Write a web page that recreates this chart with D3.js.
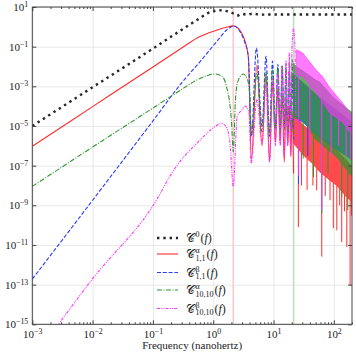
<!DOCTYPE html>
<html>
<head>
<meta charset="utf-8">
<script src="https://cdn.jsdelivr.net/npm/d3@7"></script>
<style>
  html, body { margin: 0; padding: 0; background: #fff; }
</style>
</head>
<body>
<div id="chart"></div>
<script>
// frequencies in nanohertz, values C(f)
var xTicks = [1e-3, 1e-2, 1e-1, 1e0, 1e1, 1e2],
    yTicks = [1e1, 1e-1, 1e-3, 1e-5, 1e-7, 1e-9, 1e-11, 1e-13, 1e-15],
    markerFreqs = [2.15, 21.5];

var blackPts = [
    [0.001, 1e-5], [0.01, 9e-4], [0.1, 0.08], [0.4, 1.25], [0.65, 3.2], [0.8, 4.8],
    [1.05, 6.3], [1.35, 6.8], [1.75, 6.0], [2.15, 4.7], [2.5, 3.7], [3.0, 4.5],
    [3.6, 4.1], [4.5, 4.6], [6, 4.1], [10, 4.2], [200, 4.2]
];

var redPts = [
    [0.001, 9.5e-7], [0.01, 9.5e-5], [0.1, 9.5e-3], [0.3, 0.085], [0.6, 0.33], [0.85, 0.5],
    [1.14, 0.68], [1.6, 0.92], [2.15, 1.12], [2.6, 0.83], [3.16, 0.32], [3.82, 0.031], [4.3, 2e-7],
    [5.3, 1.2e-2], [6.45, 1e-6], [7.5, 4.2e-3], [8.6, 1.5e-7], [9.6, 1.6e-3], [10.75, 1.5e-6],
    [11.8, 9e-4], [12.9, 1.3e-6], [13.9, 4.6e-4], [15.05, 1.5e-7], [16.1, 2.2e-4], [17.2, 1e-6],
    [18.3, 1.1e-4], [19.35, 3e-7], [20.4, 6e-5], [21.5, 4e-8]
];
var redBand = [
    [21.5, 5e-5, 1.3e-6], [31, 1.1e-5, 3.4e-7], [45, 5e-6, 1.2e-7], [59, 2.7e-6, 4.7e-8],
    [86.5, 1.2e-6, 1.8e-8], [112, 6e-7, 1e-8], [164, 1.8e-7, 2.5e-9], [200, 8.3e-8, 1.5e-9]
];
var redSpikes = [
    [25.8, 8e-11], [29, 1e-8], [36, 6e-9], [45, 1e-8], [52, 5.7e-9], [63, 2.6e-12], [72, 3e-9],
    [86.5, 1.8e-9], [98, 7e-11], [112, 5.5e-11], [125, 1e-9], [135, 1.4e-11], [150, 5e-10],
    [164, 8e-12], [186, 9e-14], [195, 3e-10]
];

var bluePts = [
    [0.001, 1.9e-13], [0.01, 1.8e-9], [0.1, 1.8e-5], [0.3, 1.5e-3], [0.6, 1.7e-2], [1.14, 0.18],
    [1.67, 0.69], [2.2, 1.1], [2.78, 0.56], [3.37, 0.15], [3.82, 0.031], [4.3, 3e-6],
    [5.2, 0.085], [6.45, 1e-5], [7.5, 0.033], [8.6, 3e-6], [9.6, 0.0186], [10.75, 1e-5],
    [11.8, 0.013], [12.9, 5e-6], [13.9, 0.0105], [15.05, 1e-5], [16.1, 0.0083], [17.2, 4e-6],
    [18.3, 0.0066], [19.35, 8e-6], [20.4, 4.2e-3], [21.5, 2e-6]
];
var blueBand = [
    [21.5, 4e-3, 3e-5], [31, 1.5e-3, 1.5e-5], [50, 4e-4, 4e-6], [100, 8e-5, 8e-7], [200, 1.5e-5, 2e-7]
];
var blueSpikes = [[26, 1.2e-8], [37, 3e-7]];

var greenPts = [
    [0.001, 9e-9], [0.01, 8.7e-7], [0.1, 8e-5], [0.3, 7e-4], [0.52, 2e-3], [0.8, 3.5e-3],
    [1.05, 4.2e-3], [1.4, 3.2e-3], [1.63, 1.2e-3], [2.0, 2e-5], [2.15, 5e-7],
    [2.35, 3e-4], [2.6, 2e-3], [3.15, 4.2e-3], [3.7, 2.2e-3], [4.05, 3e-4], [4.3, 4e-6],
    [5.3, 4.5e-3], [6.45, 5e-6], [7.5, 5.4e-3], [8.6, 4e-6], [9.6, 6.6e-3], [10.75, 6e-6],
    [11.8, 7.9e-3], [12.9, 4e-6], [13.9, 1.17e-2], [15.05, 6e-6], [16.1, 1.4e-2], [17.2, 5e-6],
    [18.3, 1.7e-2], [19.35, 6e-6], [20.4, 2.3e-2], [21.5, 2e-6]
];
var greenBand = [
    [21.5, 1.5e-2, 2.5e-5], [23.5, 1e-2, 2.5e-5], [31, 5.9e-3, 2e-5], [50.7, 2e-3, 2e-6],
    [59, 1.6e-3, 1.35e-6], [96, 3e-4, 4e-7], [112, 2e-4, 2.7e-7], [179, 6.3e-5, 4.2e-8], [200, 5e-5, 3e-8]
];
var greenSpikes = [[31, 2.3e-7], [46, 2.7e-8], [63, 4e-10], [80, 4e-8], [135, 2.6e-9], [170, 5.6e-10]];

var magentaPts = [
    [0.0025, 7e-16], [0.01, 2e-13], [0.1, 9.5e-10], [0.24, 8.5e-8], [0.6, 1.9e-6], [1.0, 8e-6],
    [1.38, 1.35e-5], [1.7, 7.4e-6], [1.9, 1.3e-6], [2.15, 9e-9], [2.5, 3e-5], [2.97, 6.3e-5],
    [3.37, 1e-4], [3.9, 5e-5], [4.25, 1.3e-7], [5.3, 2.2e-4], [6.45, 1.3e-6], [7.5, 1.2e-3],
    [8.6, 1.5e-7], [9.6, 2.5e-3], [10.75, 1e-6], [11.8, 4.5e-3], [12.9, 1e-6], [13.9, 1e-2],
    [15.05, 3e-7], [16.1, 2e-2], [17.2, 1e-6], [18.3, 5e-2], [19.35, 3e-7], [20.2, 0.08],
    [20.8, 0.4], [21.4, 0.85], [22.0, 0.4], [22.7, 0.08], [23.6, 1e-6]
];
var magentaBand = [
    [24, 0.07, 4e-3], [30.5, 0.048, 3e-3], [50.7, 6.6e-3, 4.6e-4], [65.5, 3e-3, 1.6e-4],
    [83.3, 9.4e-4, 5e-5], [140.6, 1.4e-4, 1.5e-5], [200, 3.1e-5, 3.5e-6]
];
var magentaSpikes = [[26, 3e-8], [40, 1e-6], [63, 6e-10], [90, 3e-7], [120, 1e-6], [160, 3e-7], [190, 2e-7]];

var legendItems = [
    { sup: '0', sub: '' },
    { sup: 'α', sub: '1,1' },
    { sup: 'β', sub: '1,1' },
    { sup: 'α', sub: '10,10' },
    { sup: 'β', sub: '10,10' }
];

window.addEventListener('load', function(){
    var W = 356, H = 356,
        left = 32.3, right = 352, top = 7, bottom = 324.3,
        serif = '"Liberation Serif", "Times New Roman", Times, serif';

    var svg = d3.select('#chart').append('svg')
        .attr('width', W).attr('height', H);

    var x = d3.scaleLog().domain([1e-3, 200]).range([left, right]),
        y = d3.scaleLog().domain([1e-15, 10]).range([bottom, top]);

    var minorX = [];
    xTicks.forEach(function(t){
        for (var k = 2; k <= 9; k++) if (t * k <= 200) minorX.push(t * k);
    });

    // grid
    svg.append('g').attr('transform', 'translate(0,' + bottom + ')')
        .call(d3.axisBottom(x).tickValues(xTicks).tickSize(-(bottom - top)).tickFormat(''))
        .call(function(g){ g.select('.domain').remove(); g.selectAll('line').attr('stroke', '#e8e8e8'); });
    svg.append('g').attr('transform', 'translate(' + left + ',0)')
        .call(d3.axisLeft(y).tickValues(yTicks).tickSize(-(right - left)).tickFormat(''))
        .call(function(g){ g.select('.domain').remove(); g.selectAll('line').attr('stroke', '#e8e8e8'); });

    svg.append('defs').append('clipPath').attr('id', 'clip')
        .append('rect').attr('x', left).attr('y', top)
        .attr('width', right - left).attr('height', bottom - top);

    var plot = svg.append('g').attr('clip-path', 'url(#clip)');

    // 1/T and 10/T markers
    plot.selectAll('.marker').data(markerFreqs).enter().append('line')
        .attr('x1', function(d){ return x(d); }).attr('x2', function(d){ return x(d); })
        .attr('y1', top).attr('y2', bottom)
        .attr('stroke', function(d, i){ return i ? '#bfe0bf' : '#f9cccc'; })
        .attr('stroke-width', 1.6);

    var line = d3.line()
        .x(function(d){ return x(d[0]); })
        .y(function(d){ return y(d[1]); })
        .curve(d3.curveMonotoneX);

    var area = d3.area()
        .x(function(d){ return x(d[0]); })
        .y0(function(d){ return y(d[2]); })
        .y1(function(d){ return y(d[1]); });

    var series = [
        { pts: blackPts, color: '#262626', width: 2.4, dash: '2.4 3.9' },
        { pts: redPts, band: redBand, spikes: redSpikes, color: '#ff2b2b', width: 1.1, dash: null, op: 0.85 },
        { pts: bluePts, band: blueBand, spikes: blueSpikes, color: '#2b3bff', width: 1.1, dash: '4 1.8', op: 0.8 },
        { pts: greenPts, band: greenBand, spikes: greenSpikes, color: '#2f962f', width: 1.1, dash: '5 1.5 1 1.5', op: 0.75 },
        { pts: magentaPts, band: magentaBand, spikes: magentaSpikes, color: '#ff33ff', width: 1.1, dash: '3 1.2 1 1.2 1 1.2', op: 0.65 }
    ];

    series.forEach(function(s){
        plot.append('path').attr('d', line(s.pts))
            .attr('fill', 'none').attr('stroke', s.color)
            .attr('stroke-width', s.width)
            .attr('stroke-dasharray', s.dash);
        if (!s.band) return;
        plot.append('path').attr('d', area(s.band))
            .attr('fill', s.color).attr('fill-opacity', s.op)
            .attr('stroke', s.color).attr('stroke-width', 0.6);
        var lowEdge = d3.scaleLog()
            .domain(s.band.map(function(d){ return d[0]; }))
            .range(s.band.map(function(d){ return y(d[2]); }));
        plot.selectAll(null).data(s.spikes).enter().append('line')
            .attr('x1', function(d){ return x(d[0]); }).attr('x2', function(d){ return x(d[0]); })
            .attr('y1', function(d){ return lowEdge(d[0]); })
            .attr('y2', function(d){ return y(d[1]); })
            .attr('stroke', s.color).attr('stroke-width', 1);
    });

    // frame and ticks
    function sup(g){
        g.selectAll('text').each(function(d){
            var t = d3.select(this).text(''), e = Math.round(Math.log10(d));
            t.append('tspan').text('10');
            t.append('tspan').attr('dy', '-0.5em').attr('font-size', '0.72em')
                .text(e < 0 ? '\u2212' + (-e) : e);
        });
    }
    function styleAxis(g){
        g.select('.domain').remove();
        g.attr('font-family', null);
        g.selectAll('line').attr('stroke', '#444');
        g.selectAll('text').attr('fill', '#222')
            .style('font-family', serif).style('font-size', '11px');
    }

    svg.append('g').attr('transform', 'translate(0,' + bottom + ')')
        .call(d3.axisBottom(x).tickValues(minorX).tickSize(-2).tickFormat(''))
        .call(styleAxis);
    svg.append('g').attr('transform', 'translate(0,' + top + ')')
        .call(d3.axisTop(x).tickValues(minorX).tickSize(-2).tickFormat(''))
        .call(styleAxis);
    svg.append('g').attr('transform', 'translate(0,' + bottom + ')')
        .call(d3.axisBottom(x).tickValues(xTicks).tickSize(-4).tickPadding(6))
        .call(sup).call(styleAxis);
    svg.append('g').attr('transform', 'translate(0,' + top + ')')
        .call(d3.axisTop(x).tickValues(xTicks).tickSize(-4).tickFormat(''))
        .call(styleAxis);
    svg.append('g').attr('transform', 'translate(' + left + ',0)')
        .call(d3.axisLeft(y).tickValues(yTicks).tickSize(-4).tickPadding(4))
        .call(sup).call(styleAxis);
    svg.append('g').attr('transform', 'translate(' + right + ',0)')
        .call(d3.axisRight(y).tickValues(yTicks).tickSize(-4).tickFormat(''))
        .call(styleAxis);

    svg.append('rect').attr('x', left).attr('y', top)
        .attr('width', right - left).attr('height', bottom - top)
        .attr('fill', 'none').attr('stroke', '#444').attr('stroke-width', 1);

    svg.append('text').attr('x', (left + right) / 2).attr('y', 349)
        .attr('text-anchor', 'middle').attr('fill', '#222')
        .style('font-family', serif).style('font-size', '11px')
        .text('Frequency (nanohertz)');

    // legend
    var rowsY = [238, 254, 272.5, 290, 308.5];
    var leg = svg.append('g').style('font-family', serif).attr('fill', '#222');
    legendItems.forEach(function(item, i){
        var s = series[i], yy = rowsY[i];
        leg.append('line').attr('x1', 157).attr('x2', 178).attr('y1', yy).attr('y2', yy)
            .attr('stroke', s.color).attr('stroke-width', s.width)
            .attr('stroke-dasharray', s.dash);
        var c = leg.append('text').attr('x', 186).attr('y', yy + 4)
            .style('font-size', '12px').text('\uD835\uDC9E');
        var cx = 186 + c.node().getComputedTextLength() + 0.5;
        var sp = leg.append('text').attr('x', cx).attr('y', yy - 1)
            .style('font-size', '8px').text(item.sup);
        var w = sp.node().getComputedTextLength();
        if (item.sub) {
            var sb = leg.append('text').attr('x', cx).attr('y', yy + 6.5)
                .style('font-size', '8px').text(item.sub);
            w = Math.max(w, sb.node().getComputedTextLength());
        }
        var f = leg.append('text').attr('x', cx + w + 1).attr('y', yy + 4).style('font-size', '12px');
        f.append('tspan').text('(');
        f.append('tspan').style('font-style', 'italic').text('f');
        f.append('tspan').text(')');
    });
});
</script>
</body>
</html>
